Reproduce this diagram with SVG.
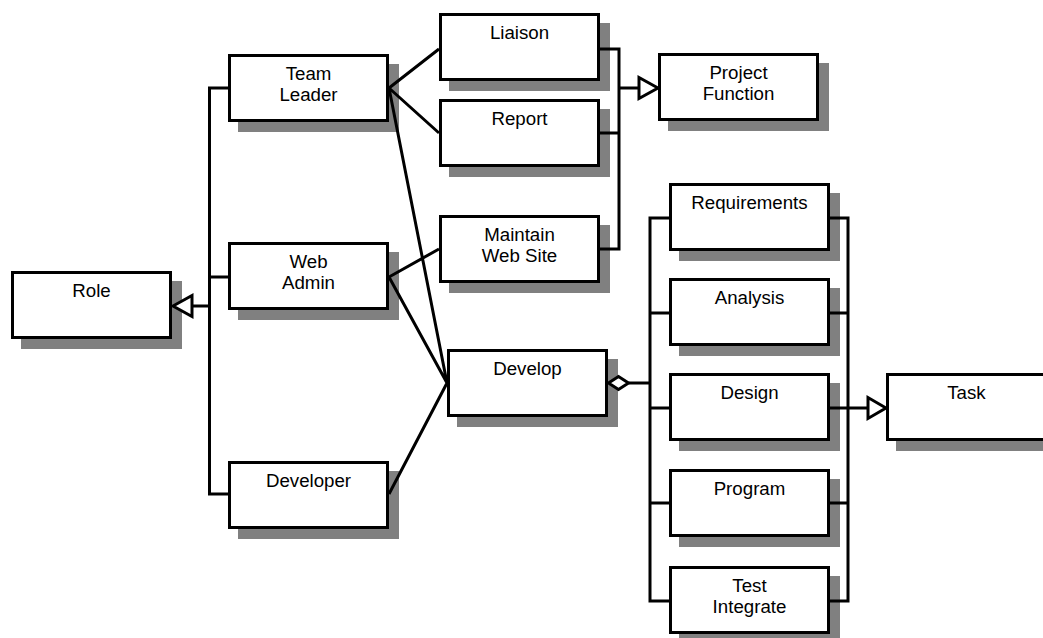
<svg xmlns="http://www.w3.org/2000/svg" width="1043" height="638" viewBox="0 0 1043 638">
<style>
.sh{fill:#808080}
.bx{fill:#fff;stroke:#000;stroke-width:3}
.t{font-family:"Liberation Sans",Arial,sans-serif;font-size:18.7px;fill:#000;text-anchor:middle}
.ln{fill:none;stroke:#000;stroke-width:3}
.hd{fill:#fff;stroke:#000;stroke-width:3}
</style>
<rect width="1043" height="638" fill="#fff"/>
<g id="role"><rect class="sh" x="21" y="281" width="161" height="68"/><rect class="bx" x="12.5" y="272.5" width="158" height="65"/><text class="t" x="91.5" y="297">Role</text></g>
<g id="teamleader"><rect class="sh" x="238" y="64" width="161" height="68"/><rect class="bx" x="229.5" y="55.5" width="158" height="65"/><text class="t" x="308.5" y="80">Team</text><text class="t" x="308.5" y="101">Leader</text></g>
<g id="webadmin"><rect class="sh" x="238" y="252" width="161" height="68"/><rect class="bx" x="229.5" y="243.5" width="158" height="65"/><text class="t" x="308.5" y="268">Web</text><text class="t" x="308.5" y="289">Admin</text></g>
<g id="developer"><rect class="sh" x="238" y="471" width="161" height="68"/><rect class="bx" x="229.5" y="462.5" width="158" height="65"/><text class="t" x="308.5" y="487">Developer</text></g>
<g id="liaison"><rect class="sh" x="449" y="23" width="161" height="68"/><rect class="bx" x="440.5" y="14.5" width="158" height="65"/><text class="t" x="519.5" y="39">Liaison</text></g>
<g id="report"><rect class="sh" x="449" y="109" width="161" height="68"/><rect class="bx" x="440.5" y="100.5" width="158" height="65"/><text class="t" x="519.5" y="125">Report</text></g>
<g id="maintain"><rect class="sh" x="449" y="225" width="161" height="68"/><rect class="bx" x="440.5" y="216.5" width="158" height="65"/><text class="t" x="519.5" y="241">Maintain</text><text class="t" x="519.5" y="262">Web Site</text></g>
<g id="projectfunction"><rect class="sh" x="668" y="63" width="161" height="68"/><rect class="bx" x="659.5" y="54.5" width="158" height="65"/><text class="t" x="738.5" y="79">Project</text><text class="t" x="738.5" y="100">Function</text></g>
<g id="develop"><rect class="sh" x="457" y="359" width="161" height="68"/><rect class="bx" x="448.5" y="350.5" width="158" height="65"/><text class="t" x="527.5" y="375">Develop</text></g>
<g id="requirements"><rect class="sh" x="679" y="193" width="161" height="68"/><rect class="bx" x="670.5" y="184.5" width="158" height="65"/><text class="t" x="749.5" y="209">Requirements</text></g>
<g id="analysis"><rect class="sh" x="679" y="288" width="161" height="68"/><rect class="bx" x="670.5" y="279.5" width="158" height="65"/><text class="t" x="749.5" y="304">Analysis</text></g>
<g id="design"><rect class="sh" x="679" y="383" width="161" height="68"/><rect class="bx" x="670.5" y="374.5" width="158" height="65"/><text class="t" x="749.5" y="399">Design</text></g>
<g id="program"><rect class="sh" x="679" y="479" width="161" height="68"/><rect class="bx" x="670.5" y="470.5" width="158" height="65"/><text class="t" x="749.5" y="495">Program</text></g>
<g id="testintegrate"><rect class="sh" x="679" y="576" width="161" height="68"/><rect class="bx" x="670.5" y="567.5" width="158" height="65"/><text class="t" x="749.5" y="592">Test</text><text class="t" x="749.5" y="613">Integrate</text></g>
<g id="task"><rect class="sh" x="896" y="383" width="161" height="68"/><rect class="bx" x="887.5" y="374.5" width="158" height="65"/><text class="t" x="966.5" y="399">Task</text></g>
<g id="connectors">
<path class="ln" d="M228,88 H209.5 V494 H228 M209.5,277 H228 M209.5,306 H192"/>
<polygon class="hd" points="173,306 192,295.5 192,316.5"/>
<path class="ln" d="M389,88 L439,49 M389,88 L439,133 M389,88 L447,383 M389,277 L439,249 M389,277 L447,383 M389,494 L447,383"/>
<path class="ln" d="M600,49 H619 V249 H600 M600,133 H619 M619,88 H639"/>
<polygon class="hd" points="658,88 639,77.5 639,98.5"/>
<polygon class="hd" points="608.5,383 618.5,376.5 628.5,383 618.5,389.5"/>
<path class="ln" d="M628.5,383 H650"/>
<path class="ln" d="M669,218 H650 V601 H669 M650,313 H669 M650,408 H669 M650,503 H669"/>
<path class="ln" d="M830,218 H848 V601 H830 M830,313 H848 M830,408 H848 M830,503 H848 M848,408 H868"/>
<polygon class="hd" points="886,408 868,397.5 868,418.5"/>
</g>
</svg>
